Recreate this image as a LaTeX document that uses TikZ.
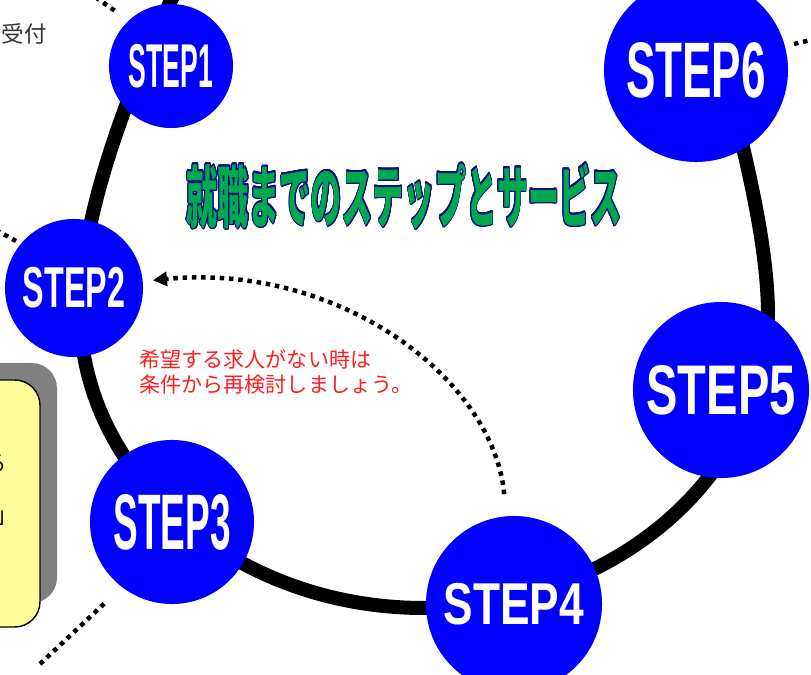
\documentclass[tikz,border=0pt]{standalone}
\usepackage{fontspec}
\setmainfont{Liberation Sans}
\newfontfamily\jpfont{Noto Sans CJK JP}
\usepackage{contour}
\usetikzlibrary{arrows.meta}

\definecolor{stepblue}{RGB}{0,0,255}
\definecolor{titlegreen}{RGB}{0,168,80}
\definecolor{titlenavy}{RGB}{10,10,130}
\definecolor{notered}{RGB}{255,30,30}
\definecolor{boxyellow}{RGB}{255,255,153}
\definecolor{shadowgray}{RGB}{128,128,128}

\newcommand{\steplabel}[3]{\scalebox{#2}[1]{\fontsize{#1}{#1}\selectfont\bfseries #3}}

\begin{document}
\begin{tikzpicture}[x=0.025cm,y=-0.025cm,
    stepnode/.style={circle,fill=stepblue,text=white,inner sep=0pt},
    ring/.style={line width=0.35cm},
    dotline/.style={line width=3.2pt,dash pattern=on 3.2pt off 3.4pt},
  ]
  \useasboundingbox (0,0) rectangle (811,675);

  % the ring behind the steps (its top runs above the page)
  \draw[ring] (80,310) .. controls (80,220) and (126,92) .. (176,-10)
    .. controls (216,-92) and (705,-80) .. (710,-10)
    .. controls (715,60) and (766,200) .. (768,310)
    arc[start angle=0,end angle=180,x radius=344,y radius=298] -- cycle;

  % box on the left, mostly outside
  \fill[shadowgray,rounded corners=18pt] (-40,363) rectangle (57,603);
  \draw[fill=boxyellow,line width=1pt,rounded corners=18pt] (-40,380) rectangle (40,627);
  \node[anchor=east,inner sep=0pt,font=\jpfont\fontsize{16pt}{16pt}\selectfont] (boxa) at (7,464) {る};
  \node[anchor=east,inner sep=0pt,font=\jpfont\fontsize{16pt}{16pt}\selectfont] (boxb) at (18,518) {」};

  \node[anchor=east,inner sep=0pt,text=black!80,font=\jpfont\fontsize{16pt}{16pt}\selectfont] (uke) at (47,34) {受付};

  % steps
  \node[stepnode,minimum size=3.1cm] (s1) at (171,66) {\steplabel{44pt}{0.43}{STEP1}};
  \node[stepnode,minimum size=3.45cm] (s2) at (74,288) {\steplabel{41pt}{0.56}{STEP2}};
  \node[stepnode,minimum size=4.1cm] (s3) at (172,522) {\steplabel{56pt}{0.47}{STEP3}};
  \node[stepnode,minimum size=4.4cm] (s4) at (514,604) {\steplabel{42pt}{0.75}{STEP4}};
  \node[stepnode,minimum size=4.4cm] (s5) at (721,390) {\steplabel{50pt}{0.67}{STEP5}};
  \node[stepnode,minimum size=4.6cm] (s6) at (696,70) {\steplabel{56pt}{0.56}{STEP6}};

  % title
  \node[font=\jpfont\bfseries\fontsize{48pt}{48pt}\selectfont] (title) at (404,197)
    {\scalebox{0.46}[1]{\contourlength{1.3pt}\contour{titlenavy}{\textcolor{titlegreen}{就職までのステップとサービス}}}};

  % note and the way back
  \node[anchor=north west,align=left,inner sep=0pt,text=notered,
    font=\jpfont\fontsize{15pt}{17.7pt}\selectfont] (note) at (139,349)
    {希望する求人がない時は\\条件から再検討しましょう。};
  \draw[dotline,-{Triangle[length=10pt,width=10pt]},shorten <=0.55cm,shorten >=0.25cm]
    (s4) .. controls (494,380) and (340,262) .. (s2);

  % dotted leads to parts outside
  \coordinate (tl) at (88,-8);
  \coordinate (tlb) at (118,13);
  \draw[dotline] (tl) -- (tlb);
  \coordinate (ml) at (-4,230);
  \coordinate (mlb) at (16,241);
  \draw[dotline] (ml) -- (mlb);
  \coordinate (bl) at (40,664);
  \coordinate (blb) at (107,601);
  \draw[dotline] (bl) -- (blb);
  \coordinate (tr) at (794,44);
  \coordinate (trb) at (815,39);
  \draw[dotline] (tr) -- (trb);
\end{tikzpicture}
\end{document}
